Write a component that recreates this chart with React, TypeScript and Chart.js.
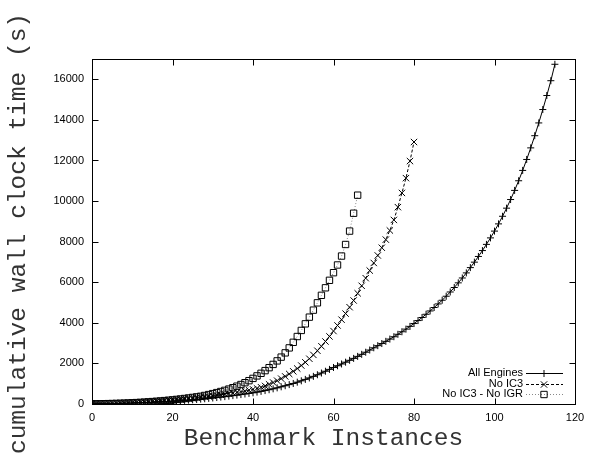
import React, { useEffect, useRef } from "react";
import { Chart, registerables } from "chart.js";

Chart.register(...registerables);

// cumulative wall clock time (s) per number of benchmark instances solved
const allEngines = [
  3, 6, 9, 12, 16, 20, 25, 30, 35, 41,
  47, 54, 61, 69, 77, 86, 95, 105, 116, 127,
  139, 151, 164, 178, 192, 207, 223, 240, 258, 277,
  297, 318, 340, 363, 387, 412, 438, 465, 493, 522,
  552, 586, 622, 661, 703, 748, 796, 847, 900, 955,
  1012, 1075, 1142, 1212, 1285, 1362, 1442, 1526, 1614, 1706,
  1800, 1885, 1972, 2061, 2153, 2248, 2346, 2447, 2551, 2659,
  2770, 2875, 2979, 3087, 3199, 3315, 3435, 3560, 3690, 3825,
  3965, 4111, 4263, 4421, 4585, 4755, 4931, 5113, 5310, 5520,
  5740, 5970, 6210, 6460, 6720, 6990, 7270, 7560, 7865, 8185,
  8520, 8875, 9250, 9650, 10075, 10525, 11000, 11510, 12050, 12620,
  13220, 13850, 14510, 15200, 15930, 16740,
];

const noIC3 = [
  4, 7, 10, 14, 18, 23, 29, 35, 42, 50,
  58, 67, 77, 88, 100, 112, 125, 139, 154, 170,
  186, 203, 221, 240, 260, 281, 303, 326, 350, 375,
  401, 428, 456, 485, 515, 546, 578, 611, 646, 683,
  722, 770, 825, 890, 970, 1060, 1150, 1250, 1360, 1480,
  1610, 1748, 1895, 2055, 2230, 2420, 2625, 2845, 3080, 3330,
  3595, 3870, 4155, 4455, 4770, 5100, 5455, 5825, 6200, 6575,
  6950, 7320, 7700, 8100, 8550, 9070, 9700, 10400, 11130, 11970,
  12910,
];

const noIC3NoIGR = [
  5, 8, 11, 15, 19, 24, 30, 36, 43, 51,
  60, 70, 81, 93, 106, 120, 135, 151, 168, 186,
  205, 226, 248, 272, 297, 324, 352, 380, 420, 465,
  512, 562, 615, 672, 735, 803, 878, 960, 1050, 1150,
  1262, 1385, 1512, 1645, 1790, 1950, 2125, 2310, 2520, 2765,
  3040, 3325, 3625, 3950, 4280, 4625, 4985, 5355, 5725, 6095,
  6470, 6850, 7290, 7860, 8520, 9400, 10290,
];

const seriesLabels = ["All Engines", "No IC3", "No IC3 - No IGR"];
const xTitle = "Benchmark Instances";
const yTitle = "cumulative wall clock time (s)";
const xTickValues = [0, 20, 40, 60, 80, 100, 120];
const yTickValues = [0, 2000, 4000, 6000, 8000, 10000, 12000, 14000, 16000];
const xMin = 0;
const xMax = 120;
const yMin = 0;
const yMax = 17000;

const toPoints = (arr: number[]) => arr.map((v, i) => ({ x: i, y: v }));

function drawMarker(ctx: CanvasRenderingContext2D, style: string, x: number, y: number, r: number) {
  ctx.beginPath();
  if (style === "cross") {
    ctx.moveTo(x - r, y);
    ctx.lineTo(x + r, y);
    ctx.moveTo(x, y - r);
    ctx.lineTo(x, y + r);
  } else if (style === "crossRot") {
    const o = r * Math.SQRT1_2;
    ctx.moveTo(x - o, y - o);
    ctx.lineTo(x + o, y + o);
    ctx.moveTo(x - o, y + o);
    ctx.lineTo(x + o, y - o);
  } else if (style === "rect") {
    const s = r * Math.SQRT1_2;
    ctx.rect(x - s, y - s, 2 * s, 2 * s);
  }
  ctx.stroke();
}

const gnuplotDecor = {
  id: "gnuplotDecor",
  afterDatasetsDraw(chart: any) {
    const ctx: CanvasRenderingContext2D = chart.ctx;
    const { left, right, top, bottom } = chart.chartArea;
    const xs = chart.scales.x;
    const ys = chart.scales.y;
    ctx.save();
    ctx.strokeStyle = "#000";
    ctx.lineWidth = 1;
    ctx.setLineDash([]);
    const L = Math.round(left) + 0.5;
    const R = Math.round(right) + 0.5;
    const T = Math.round(top) + 0.5;
    const B = Math.round(bottom) + 0.5;
    ctx.strokeRect(L, T, R - L, B - T);
    const tl = 6;
    ctx.beginPath();
    xs.ticks.forEach((t: any) => {
      const px = Math.round(xs.getPixelForValue(t.value)) + 0.5;
      ctx.moveTo(px, B);
      ctx.lineTo(px, B - tl);
      ctx.moveTo(px, T);
      ctx.lineTo(px, T + tl);
    });
    ys.ticks.forEach((t: any) => {
      const py = Math.round(ys.getPixelForValue(t.value)) + 0.5;
      ctx.moveTo(L, py);
      ctx.lineTo(L + tl, py);
      ctx.moveTo(R, py);
      ctx.lineTo(R - tl, py);
    });
    ctx.stroke();

    // legend (gnuplot style, inside bottom-right)
    ctx.font = "11px 'Liberation Sans', Arial, sans-serif";
    ctx.textAlign = "right";
    ctx.textBaseline = "middle";
    chart.data.datasets.forEach((ds: any, i: number) => {
      const ry = bottom - 31 + i * 10.5;
      ctx.fillStyle = "#000";
      ctx.fillText(ds.label, right - 52, ry);
      ctx.strokeStyle = ds.borderColor;
      ctx.lineWidth = 1;
      ctx.setLineDash(ds.borderDash || []);
      ctx.beginPath();
      ctx.moveTo(right - 49, Math.round(ry) + 0.5);
      ctx.lineTo(right - 12, Math.round(ry) + 0.5);
      ctx.stroke();
      ctx.setLineDash([]);
      ctx.strokeStyle = ds.pointBorderColor;
      drawMarker(ctx, ds.pointStyle, right - 31, Math.round(ry) + 0.5, ds.pointRadius);
    });

    // axis titles
    ctx.fillStyle = "#333";
    ctx.font = "24.5px 'Liberation Mono', 'DejaVu Sans Mono', monospace";
    ctx.textAlign = "center";
    ctx.textBaseline = "alphabetic";
    ctx.fillText(xTitle, (left + right) / 2 - 10, 445);
    ctx.translate(25, (top + bottom) / 2 + 2);
    ctx.rotate(-Math.PI / 2);
    ctx.fillText(yTitle, 0, 0);
    ctx.restore();
  },
};

export default function App() {
  const ref = useRef<HTMLCanvasElement | null>(null);
  useEffect(() => {
    if (!ref.current) return;
    const tickFont = { family: "'Liberation Sans', Arial, sans-serif", size: 11 };
    const chart = new Chart(ref.current, {
      type: "line",
      data: {
        datasets: [
          {
            label: seriesLabels[0],
            data: toPoints(allEngines),
            borderColor: "#000",
            borderWidth: 1,
            pointStyle: "cross",
            pointRadius: 3.5,
            pointBorderColor: "#000",
            pointBackgroundColor: "rgba(0,0,0,0)",
            pointBorderWidth: 1,
            tension: 0,
          },
          {
            label: seriesLabels[1],
            data: toPoints(noIC3),
            borderColor: "#000",
            borderWidth: 1,
            borderDash: [3, 2],
            pointStyle: "crossRot",
            pointRadius: 4.5,
            pointBorderColor: "#000",
            pointBackgroundColor: "rgba(0,0,0,0)",
            pointBorderWidth: 1,
            tension: 0,
          },
          {
            label: seriesLabels[2],
            data: toPoints(noIC3NoIGR),
            borderColor: "#888",
            borderWidth: 1,
            borderDash: [1, 2],
            pointStyle: "rect",
            pointRadius: 4.5,
            pointBorderColor: "#000",
            pointBackgroundColor: "rgba(0,0,0,0)",
            pointBorderWidth: 1,
            tension: 0,
          },
        ] as any,
      },
      plugins: [gnuplotDecor],
      options: {
        animation: false,
        responsive: false,
        devicePixelRatio: 1,
        events: [],
        layout: { padding: { left: 0, top: 59, right: 20, bottom: 0 } },
        plugins: { legend: { display: false }, tooltip: { enabled: false }, title: { display: false } },
        scales: {
          x: {
            type: "linear",
            min: xMin,
            max: xMax,
            grid: { display: false, drawTicks: false },
            border: { display: false },
            ticks: {
              color: "#000",
              font: tickFont,
              padding: 7,
              maxRotation: 0,
              callback: (v: any) => String(v),
            },
            afterBuildTicks: (s: any) => {
              s.ticks = xTickValues.map((v) => ({ value: v }));
            },
            afterFit: (s: any) => {
              s.height = 461 - 404;
            },
          },
          y: {
            type: "linear",
            min: yMin,
            max: yMax,
            grid: { display: false, drawTicks: false },
            border: { display: false },
            ticks: {
              color: "#000",
              font: tickFont,
              padding: 8,
              callback: (v: any) => String(v),
            },
            afterBuildTicks: (s: any) => {
              s.ticks = yTickValues.map((v) => ({ value: v }));
            },
            afterFit: (s: any) => {
              s.width = 92;
            },
          },
        },
      } as any,
    });
    return () => chart.destroy();
  }, []);
  return (
    <div style={{ position: "absolute", left: 0, top: 0, width: 595, height: 461, background: "#fff" }}>
      <canvas ref={ref} width={595} height={461} style={{ display: "block", width: 595, height: 461 }} />
    </div>
  );
}
